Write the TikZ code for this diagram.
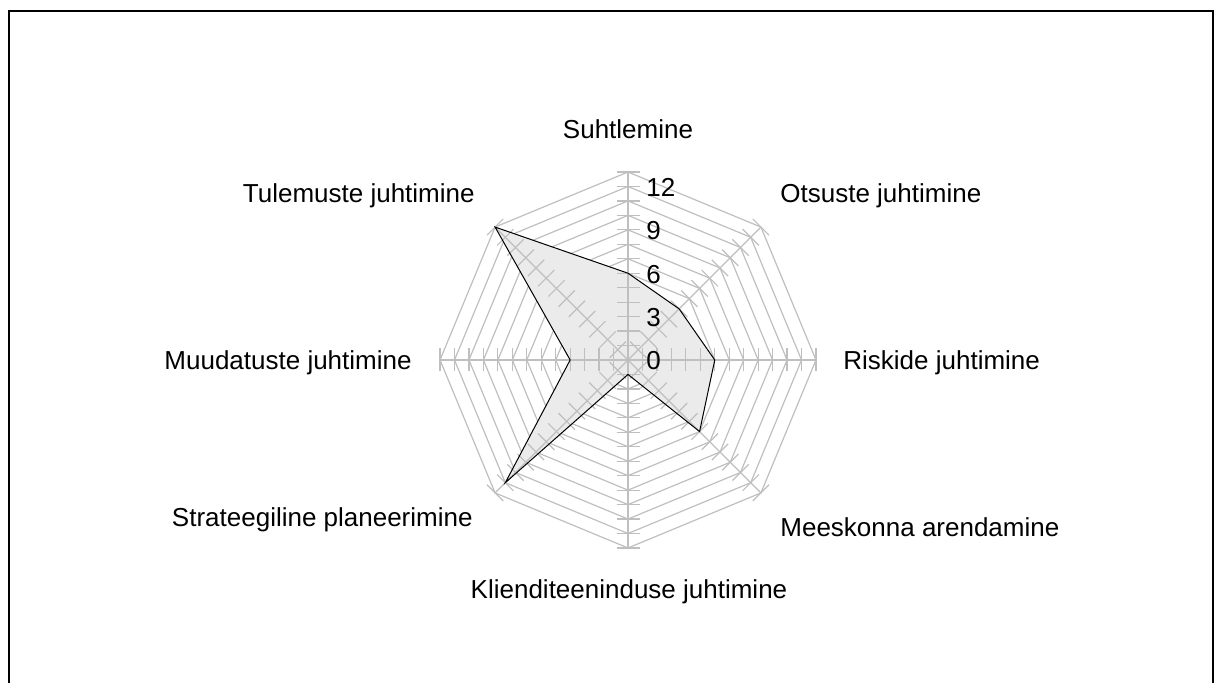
\documentclass[tikz,border=0pt]{standalone}
\usepackage{fontspec}
\setmainfont{Liberation Sans}
\usepackage{tikz}
\usetikzlibrary{calc}
\usepackage{xcolor}
\definecolor{ChartGrid}{HTML}{BFBFBF}
\definecolor{ChartFill}{HTML}{EBEBEB}
\definecolor{ChartInk}{HTML}{000000}
\tikzset{
  frameline/.style={draw=ChartInk,line width=1pt},
  gridring/.style={draw=ChartGrid,line width=0.6pt,line join=miter},
  axisline/.style={draw=ChartGrid,line width=0.6pt},
  seriesarea/.style={fill=ChartFill,draw=none},
  seriesline/.style={draw=ChartInk,line width=0.5pt,line join=miter},
  catlabel/.style={inner sep=0pt,text=ChartInk,font=\fontsize{13}{15}\selectfont},
  valuelabel/.style={inner sep=0pt,anchor=base west,text=ChartInk,font=\fontsize{13}{15}\selectfont}
}
\newcommand{\radarunit}{14.46}

\begin{document}
\begin{tikzpicture}[x=0.5pt,y=0.5pt]
  \useasboundingbox (0,0) rectangle (1214,683);
  \clip (0,0) rectangle (1214,683);
  \draw[frameline] (9,-20) rectangle (1212.7,672);

  \begin{scope}[shift={(628,323)}]
    % rings, one per unit
    \foreach \r in {1,...,13}
      \draw[gridring] (0:\r*\radarunit) \foreach \a in {45,90,...,315} { -- (\a:\r*\radarunit) } -- cycle;

    % series points
    \foreach \v [count=\i from 0] in {6,5,6,7,1,12,4,13}
      \coordinate (p\i) at (90-45*\i:\v*\radarunit);
    \fill[seriesarea] (p0) -- (p1) -- (p2) -- (p3) -- (p4) -- (p5) -- (p6) -- (p7) -- cycle;

    % spokes with tick marks
    \foreach \a in {0,45,...,315} {
      \begin{scope}[rotate=\a]
        \draw[axisline] (0,0) -- (13*\radarunit,0);
        \foreach \r in {1,...,13}
          \draw[axisline] (\r*\radarunit,-11.5) -- (\r*\radarunit,11.5);
      \end{scope}
    }

    \draw[seriesline] (p0) -- (p1) -- (p2) -- (p3) -- (p4) -- (p5) -- (p6) -- (p7) -- cycle;

    % value axis
    \foreach \v in {0,3,...,12}
      \node[valuelabel] (val\v) at (18,\v*\radarunit-10) {\v};
  \end{scope}

  % categories
  \node[catlabel,anchor=base] (suhtlemine) at (628,544) {Suhtlemine};
  \node[catlabel,anchor=base west] (otsused) at (780,480) {Otsuste juhtimine};
  \node[catlabel,anchor=base west] (riskid) at (843,313) {Riskide juhtimine};
  \node[catlabel,anchor=base west] (meeskond) at (780,146) {Meeskonna arendamine};
  \node[catlabel,anchor=base] (klienditeenindus) at (629,84) {Klienditeeninduse juhtimine};
  \node[catlabel,anchor=base east] (strateegia) at (473,156) {Strateegiline planeerimine};
  \node[catlabel,anchor=base east] (muudatused) at (412,313) {Muudatuste juhtimine};
  \node[catlabel,anchor=base east] (tulemused) at (475,480) {Tulemuste juhtimine};
\end{tikzpicture}
\end{document}
